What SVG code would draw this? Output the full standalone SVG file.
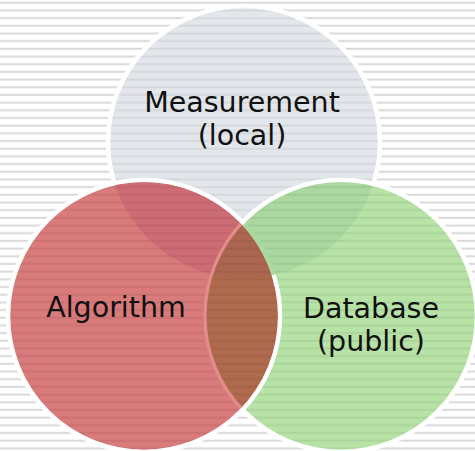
<svg xmlns="http://www.w3.org/2000/svg" width="475" height="451" viewBox="0 0 475 451">
  <style>
    .label { font-family: "DejaVu Sans", Verdana, sans-serif; font-size: 28.5px; fill: #111111; text-anchor: middle; }
    .ring { stroke: #ffffff; stroke-width: 4.5; }
  </style>
  <defs>
    <!-- horizontal rule pattern for the page background -->
    <pattern id="rules" patternUnits="userSpaceOnUse" x="0" y="0" width="475" height="7.683">
      <rect x="0" y="1.7" width="475" height="2" fill="#d9d9d9"/>
    </pattern>
    <!-- the same rules, used as a dark overlay on the circles -->
    <pattern id="rulesDark" patternUnits="userSpaceOnUse" x="0" y="0" width="475" height="7.683">
      <rect x="0" y="1.7" width="475" height="2" fill="#000000"/>
    </pattern>
    <clipPath id="clipGray"><circle cx="244" cy="142" r="136"/></clipPath>
    <clipPath id="clipGreen"><circle cx="341" cy="316" r="136"/></clipPath>
    <clipPath id="clipRedIn"><circle cx="144" cy="316" r="133.75"/></clipPath>
    <!-- shading is kept off the white outlines -->
    <mask id="shadeMask" maskUnits="userSpaceOnUse" x="0" y="0" width="475" height="451">
      <rect x="0" y="0" width="475" height="451" fill="#000"/>
      <circle cx="244" cy="142" r="136" fill="#fff"/>
      <circle cx="244" cy="142" r="136" fill="none" stroke="#000" stroke-width="5"/>
      <circle cx="341" cy="316" r="136" fill="#fff"/>
      <circle cx="144" cy="316" r="136" fill="#fff"/>
      <circle cx="341" cy="316" r="136" fill="none" stroke="#000" stroke-width="5"/>
      <circle cx="144" cy="316" r="136" fill="none" stroke="#000" stroke-width="5"/>
    </mask>
  </defs>

  <!-- page -->
  <rect x="0" y="0" width="475" height="451" fill="#ffffff"/>
  <rect x="0" y="0" width="475" height="451" fill="url(#rules)"/>

  <g id="node-measurement">
    <circle class="ring" cx="244" cy="142" r="136" fill="#e3e6eb"/>
    <text class="label" x="242" y="112">Measurement</text>
    <text class="label" x="242" y="145">(local)</text>
  </g>

  <g id="node-database">
    <circle class="ring" cx="341" cy="316" r="136" fill="#b7e3a7"/>
    <text class="label" x="371" y="318">Database</text>
    <text class="label" x="371" y="351">(public)</text>
  </g>

  <g id="node-algorithm">
    <circle class="ring" cx="144" cy="316" r="136" fill="#d97a7b"/>
    <text class="label" x="116" y="317">Algorithm</text>
  </g>

  <!-- overlap regions -->
  <g id="overlaps">
    <g clip-path="url(#clipGray)">
      <circle cx="144" cy="316" r="133.75" fill="#cd6c74"/>
      <circle cx="341" cy="316" r="133.75" fill="#abd8a0"/>
    </g>
    <g clip-path="url(#clipGreen)">
      <circle cx="144" cy="316" r="133.75" fill="#b06a4d"/>
    </g>
    <g clip-path="url(#clipGray)">
      <g clip-path="url(#clipGreen)">
        <circle cx="144" cy="316" r="133.75" fill="#ab6650"/>
      </g>
    </g>
    <!-- green outline seen through the red circle -->
    <g clip-path="url(#clipRedIn)">
      <circle cx="341" cy="316" r="136" fill="none" stroke="#e38e8d" stroke-width="3"/>
    </g>
  </g>

  <!-- ruled shading over the circles -->
  <rect x="0" y="0" width="475" height="451" fill="url(#rulesDark)" opacity="0.06" mask="url(#shadeMask)"/>
</svg>
